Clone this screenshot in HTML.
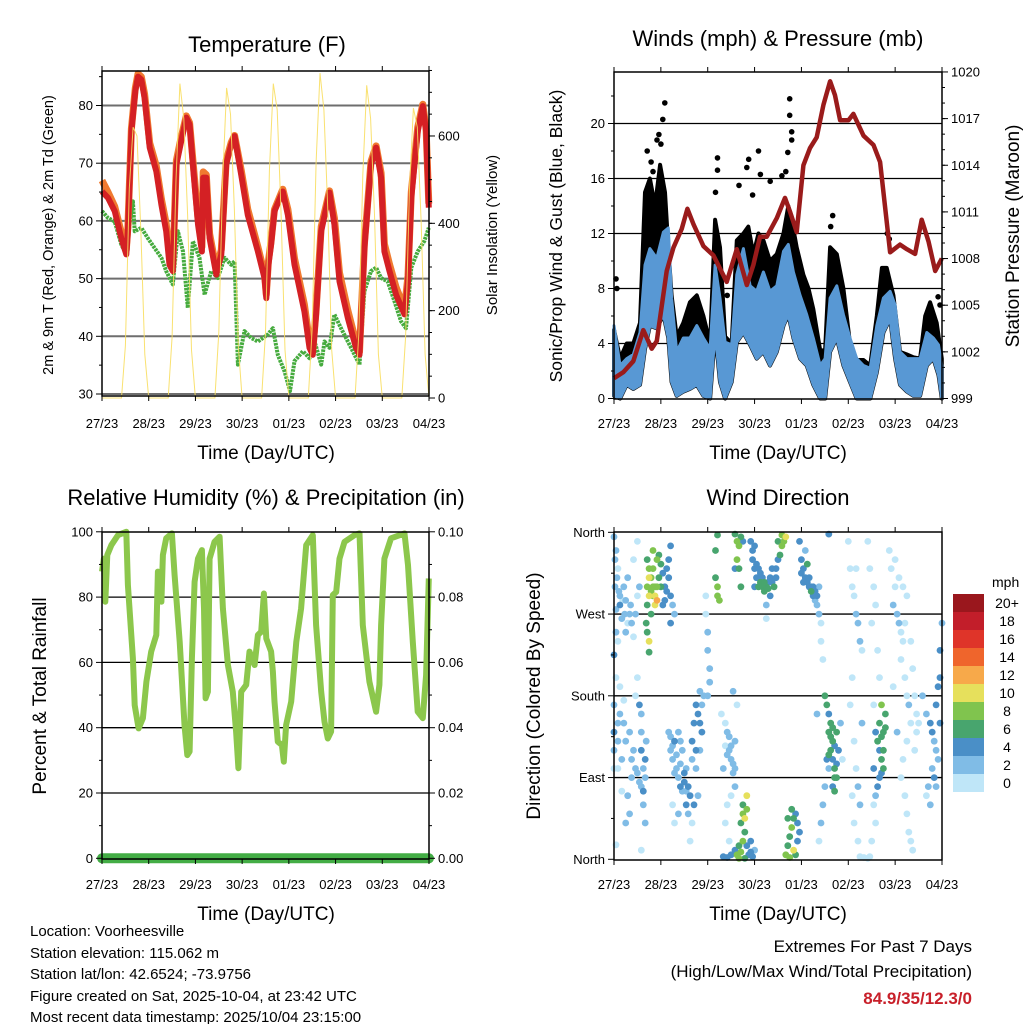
<!DOCTYPE html>
<html><head><meta charset="utf-8">
<style>
html,body{margin:0;padding:0;background:#fff;}
svg{display:block;font-family:"Liberation Sans",Arial,sans-serif;}
</style></head>
<body>
<svg id="chart" width="1024" height="1024" viewBox="0 0 1024 1024" xmlns="http://www.w3.org/2000/svg">
<rect x="0" y="0" width="1024" height="1024" fill="#fff"/>
<g id="layer"></g>
<text x="267" y="52" font-size="22" text-anchor="middle">Temperature (F)</text>
<text x="778" y="46" font-size="22" text-anchor="middle">Winds (mph) &amp; Pressure (mb)</text>
<text x="266" y="505" font-size="22" text-anchor="middle">Relative Humidity (%) &amp; Precipitation (in)</text>
<text x="778" y="505" font-size="22" text-anchor="middle">Wind Direction</text>
<text transform="translate(53,235) rotate(-90)" font-size="14.5" text-anchor="middle">2m &amp; 9m T (Red, Orange) &amp; 2m Td (Green)</text>
<text transform="translate(497,235) rotate(-90)" font-size="15" text-anchor="middle">Solar Insolation (Yellow)</text>
<text transform="translate(562,236) rotate(-90)" font-size="17.5" text-anchor="middle">Sonic/Prop Wind &amp; Gust (Blue, Black)</text>
<text transform="translate(1019,236) rotate(-90)" font-size="19" text-anchor="middle">Station Pressure (Maroon)</text>
<text transform="translate(46,696) rotate(-90)" font-size="19" text-anchor="middle">Percent &amp; Total Rainfall</text>
<text transform="translate(540,696) rotate(-90)" font-size="19" text-anchor="middle">Direction (Colored By Speed)</text>
<text x="266" y="459" font-size="19" text-anchor="middle">Time (Day/UTC)</text>
<text x="778" y="459" font-size="19" text-anchor="middle">Time (Day/UTC)</text>
<text x="266" y="920" font-size="19" text-anchor="middle">Time (Day/UTC)</text>
<text x="778" y="920" font-size="19" text-anchor="middle">Time (Day/UTC)</text>
<g font-size="15">
<text x="30" y="936">Location: Voorheesville</text>
<text x="30" y="958">Station elevation: 115.062 m</text>
<text x="30" y="979">Station lat/lon: 42.6524; -73.9756</text>
<text x="30" y="1001">Figure created on Sat, 2025-10-04, at 23:42 UTC</text>
<text x="30" y="1022">Most recent data timestamp: 2025/10/04 23:15:00</text>
</g>
<text x="972" y="952" font-size="17" text-anchor="end">Extremes For Past 7 Days</text>
<text x="972" y="977" font-size="17" text-anchor="end">(High/Low/Max Wind/Total Precipitation)</text>
<text x="972" y="1004" font-size="17" font-weight="bold" fill="#c8202a" text-anchor="end">84.9/35/12.3/0</text>
<text x="992" y="587" font-size="14">mph</text>
</svg>
<script>
// ---------------- DATA ----------------
const dayLabels = ["27/23","28/23","29/23","30/23","01/23","02/23","03/23","04/23"];
const tempHours = [0,3.1,6.5,9.9,12.5,13.3,15.1,17.1,18.5,20.2,21.9,24.5,27.9,30.5,33,34.7,36.4,38.2,40.7,43.3,45,46.7,49.3,51.3,52,53.6,55.3,58.7,61.3,63.8,66.4,68.1,71.5,74.9,80.1,83.5,84.4,85.5,86.9,88.6,92.9,95.5,98.9,104,106.6,108.3,110,112.6,116.9,119.4,122,126.3,130.5,132.3,134.8,138.2,140.8,143.4,145.1,147.7,151.1,155.4,157.2,158.9,162.2,164.8,166.5,167.9];
const tempRed = [65.1,64,61.7,57,54.2,58.2,75.5,82.5,85,84.5,81.3,72.7,68.6,62.8,58.2,52.4,51.3,69.8,73.8,77.9,76.7,69.8,59.4,54.7,67.5,67.5,57,50.7,54.2,69.8,73.2,74.7,68,61,54.7,50.1,46.6,52.4,55.9,61.7,65.1,61,52.4,44.3,38,36.8,43.8,58.2,64.9,59.4,49.5,43.2,38,36.8,55.3,69.8,72.7,67.5,54.7,51.3,47.2,43.8,49.5,64,75.5,79.9,75.5,62.3];
const tempOrange = [67,65,62.5,58,55,59,76,83,85.5,85,82,73.5,69.5,63.8,59.5,54,52.2,70.5,74.5,78.2,77,70.5,60.5,55.5,68.5,68,57.8,51.5,55,70.5,73.6,74.8,68.8,62,55.5,50.8,47.2,53,56.5,62,65.5,62,53.5,45.5,39,37.5,44.5,59,65.2,60.5,51,44.5,39,37.3,56,70.3,73,68.3,56,52.5,48.5,44.8,50.5,65,76.2,80.2,76,63];
const dewHours = [0,3.1,6.5,9.9,12.5,14.2,15.9,16.8,20.2,23.6,27,30.5,33,36.4,39,41.6,44.1,46.7,50.1,52.7,56.1,59.5,63,66.4,68.1,69.8,73.2,76.7,80.1,85.2,87.8,90.3,93.8,96.6,98.9,103.2,106.6,109.2,112.6,114.3,116.9,119.4,122.8,128,132.3,134.8,138.2,140.8,143.4,146.8,150.2,153.6,156.2,158.9,162.2,165.6,167.9];
const dewGreen = [61.7,60.5,59.9,55.9,54.2,59.4,63.4,58.2,58.8,57,55.3,53.6,51.3,49,58.2,54.7,44.9,56.5,53.6,47.2,51.3,50.1,53.6,52.4,53,35.1,40.9,39.7,39.1,40.3,41.4,36.8,33.9,30.5,35.7,37.4,36.2,39.1,35.1,39.1,38,43.8,41.4,38,35.1,47.8,51.3,51.9,50.1,49.5,46.1,42.6,41.4,51.9,54.7,56.5,58.8];
const solarStepHours = 2;
const solarValues = [
0,0,0,0,0,0,120,480,620,600,380,100,
0,0,0,0,0,0,140,500,720,640,420,110,
0,0,0,0,0,0,150,500,710,650,430,120,
0,0,0,0,0,0,150,520,720,660,420,110,
0,0,0,0,0,0,160,540,744,660,430,110,
0,0,0,0,0,0,150,510,716,640,420,100,
0,0,0,0,0,0,140,480,664,620,400,100,
0];
const windHours = [0,3.1,6.5,9.9,13.3,15.9,18.4,21.9,25.3,27.8,29.5,32.1,35.5,38.9,42.4,45.8,49.2,51.8,54.3,56.9,60.3,62.9,66.3,69.7,73.1,76.5,79.9,83.4,86.8,89.3,91.9,95.3,98.7,102.1,105.6,108.1,110.7,114.1,117.5,120.9,124.3,127.8,131.2,134.6,138,141.4,144,146.5,150,153.4,156.8,160.2,163.6,166.2,167.9];
const windLow = [0.2,0,1,0.7,1,3.6,5.3,5.1,6.1,4.4,1.2,0.2,0.5,0.7,1,0.2,0,4.8,1.2,0,1.2,4.1,4.8,3.9,2.9,3.4,2.4,3.4,5.3,6.1,4.4,2.9,2.4,1,0,0,3.4,4.4,2.4,1.2,0,0,0,1.9,4.8,5.8,2.9,1,0.5,0.2,0.2,2.4,2.9,1.7,0];
const windHigh = [5.3,2.4,2.9,3.2,4.8,9.7,10.9,10.2,12.1,12.4,7.3,3.4,4.4,4.4,5.3,4.4,3.6,9.7,7.3,4.1,3.9,9,10.9,8.2,7.8,9.2,7.8,8.2,10.7,11.2,9.2,7.5,6.1,4.4,2.4,2.9,7.3,8.2,6.1,4.4,2.9,2.4,2.2,5.3,7.3,7.8,6.8,3.4,2.9,2.9,2.9,4.8,4.4,3.9,2.4];
const gustHours = [0,3.1,6.5,9.9,13.3,15.9,18.4,21,23.6,26.1,27.8,29.5,32.1,35.5,38.9,42.4,45.8,49.2,51.8,54.3,56.9,60.3,62.9,66.3,68.8,71.4,74,76.5,79.9,83.4,86.8,89.3,91,93.6,97,99.6,102.1,105.6,108.1,110.7,114.1,117.5,120.9,124.3,127.8,131.2,134.6,137.2,139.7,143.1,146.5,150,153.4,156.8,159.4,161.9,165.3,167.9];
const gustHigh = [5,2.9,4,4,5.5,15,16,14,17,15,11,7.5,4.5,5.5,7,7.5,6,4,13,11,4.5,4,11.5,12,12.5,10.5,12,11.5,10,10.5,12,14,13,11,9,8,6.5,3.5,3.5,11,10.5,8,4,2.8,2.8,2.4,6,9.5,9.5,7.5,3.4,3.2,3,2.9,6,7,5.5,2.9];
const gustOutlierHours = [26,25,23,22,17,24,19,20,53,53,52,69,68,74,75,90,90,91,91,89,88,64,80,112,111,140,141,1,1.5,167,166,71,86,58];
const gustOutlierMph = [21.5,20.3,19.2,18.8,18,18.5,17.2,16.5,17.5,16.6,15,17.4,16.8,18,16.3,21.8,20.6,19.4,18.8,17.9,16.5,15.5,15.8,13.3,12.5,12,11.6,8.7,8,6.8,7.4,14.8,16.2,7.5];
const pressHours = [0,4.8,9.9,15,19.3,21.9,27,30.4,34.7,37.6,40.7,45.8,50.9,57.7,62.9,68,71.4,74.8,78.2,83.4,87.6,90.2,93.6,97,100.4,103.8,107.3,110.7,113.2,115.8,120.1,122.6,127.8,132.9,136.3,141.4,146.5,150,154.2,157.6,161.1,164.5,167.9];
const pressValues = [1000.3,1000.7,1001.4,1003.4,1002.2,1002.7,1007.2,1008.7,1009.9,1011.2,1010.2,1008.8,1008.2,1006.5,1008.6,1006.3,1007.6,1009.4,1009.4,1010.6,1011.9,1011,1009.7,1014,1015.1,1015.8,1017.9,1019.4,1018.5,1016.9,1016.9,1017.3,1015.9,1015.3,1014.2,1008.4,1008.9,1008.6,1008.3,1010.5,1009.1,1007.2,1008];
const rhHours = [0,1,1.7,2.7,4.8,8.2,12.5,13.3,15.9,16.8,18.8,21,22.8,25.3,27.9,28.7,30.5,31.3,33,35.9,37.3,39.9,42.4,43.8,45,46.2,47.6,49.3,51.3,52.4,53.2,54.4,55.3,57.8,60.4,62.1,64.7,67.2,68.9,70.1,71.5,74.1,75.8,78.4,80.1,81.8,83.2,84.4,86.9,87.8,88.6,90.3,92.4,93.4,94.6,97.2,99.8,102.3,104.9,108.3,110,112.6,114.3,116,117.7,118.6,120.3,122,124.6,129.7,132.3,134,137.4,140.8,142.5,143.4,145.1,148.5,155.4,157.2,159.7,162.2,164.8,166.5,167.9];
const rhValues = [87.8,91.8,78.6,92.9,95.9,99,100,83.7,61.2,46.9,39.8,42.9,54.1,63.3,68.4,87.8,78.6,92.9,98,99.5,86.7,66.3,40.8,31.6,32.7,61.2,84.7,91.8,94.4,76.5,49,51,91.8,96.9,98.5,76.5,59.2,51,38.8,27.6,51,53.1,63.3,59.2,68.4,69.4,81.1,67.3,63.3,57.1,48,35.7,34.7,29.6,40.8,48,66.3,76.5,95.9,99,71.4,51,41.8,36.7,38.8,80.6,81.6,91.8,96.9,99,99.5,71.4,54.1,44.9,53.1,71.4,91.8,98,99.5,89.8,66.3,44.9,42.9,56.1,85.7];
const precipValues = [0,0];
// Wind direction observations [hour, degrees, speed mph]
const dirObs = [
[0,355,2],[1,340,2],[2,320,0],[0.5,300,2],[3,290,2],[5,300,2],[6,285,2],[8,270,2],[9,260,2],[4,265,2],[1,250,2],[2,240,0],[6,250,2],[10,245,0],[3,280,4],[7,310,2],[10,330,0],[12,350,0],[0,225,4],[1,200,0],[3,190,0],[5,175,0],[3,160,2],[5,150,2],[8,140,2],[10,120,2],[11,100,2],[14,80,2],[15,60,2],[13,170,4],[2,130,2],[0,140,4],[4,110,2],[9,90,2],[6,40,2],[8,50,2],[0,100,0],[2,100,0],[12,200,0],[14,140,2],[15,100,2],[16,90,2],[14,120,4],[16,40,2],[1,16,0],[14,10,0],[7,70,2],[4,75,0],
[0.5,330,2],[1.5,310,2],[2.5,295,2],[4.5,285,0],[5.5,270,2],[7,260,0],[8.5,280,2],[1,275,2],[11,270,2],[12,290,0],[13,300,2],[2,150,2],[6,130,2],[9,110,2],[12,95,2],[13,85,2],[15,75,4],[16,110,4],[16.5,130,2],[14,160,2],[11,180,0],[0,170,2],[0,120,2],
[17,330,6],[18,320,8],[17,300,8],[19,310,8],[18,290,10],[20,300,8],[21,290,10],[22,285,12],[21,280,10],[19,270,6],[17,250,6],[18,240,10],[18,228,6],[20,320,8],[22,330,8],[24,325,6],[25,315,4],[24,300,6],[26,300,4],[25,280,4],[28,310,4],[29,290,4],[30,280,2],[31,270,2],[29,260,4],[28,330,4],[29,345,4],
[18,310,10],[19,295,8],[20,290,8],[21,300,8],[23,310,6],[22,300,8],[17,280,6],[16.5,260,6],[20,340,8],[23,335,6],[27,320,4],[27,295,4],[26,285,4],
[28,140,2],[29,120,2],[30,110,2],[31,130,4],[32,100,2],[33,90,2],[34,80,4],[35,75,2],[36,85,4],[37,60,4],[38,50,2],[37,100,2],[35,120,2],[33,140,2],[40,130,4],[41,150,4],[42,170,4],[44,185,2],[43,160,4],[42,100,2],[43,70,2],[41,60,4],[40,40,0],[39,20,0],[30,60,0],[31,40,0],[33,50,2],[45,170,2],[46,180,2],[45,140,4],[44,120,2],
[30,125,2],[32,115,2],[34,105,2],[36,95,4],[38,80,4],[39,70,4],[37,75,2],[34,130,2],[29,135,2],[31,95,2],[40,110,2],[42,120,4],[44,150,4],
[47,270,0],[48,250,2],[48,230,2],[49,210,2],[47,290,0],[49,195,2],[48,180,2],
[52,310,6],[53,300,8],[53,290,8],[54,285,8],[52,340,6],[53,357,6],
[55,160,0],[57,150,0],[58,140,2],[59,120,2],[60,110,2],[61,95,2],[62,80,2],[60,70,0],[58,60,0],[62,130,2],[63,170,0],[56,100,2],[57,40,0],[59,20,0],[60,5,4],[58,2,4],[56,3,4],[61,185,2],
[59,135,2],[60,125,2],[61,105,2],[62,100,2],[58,115,2],[57,125,0],
[62,358,6],[63,350,8],[64,345,8],[63,330,8],[64,320,6],[62,320,4],[65,355,6],[66,350,4],[65,300,6],
[62,10,4],[63,5,8],[64,15,6],[65,8,8],[66,20,8],[67,30,6],[67,45,10],[66,50,8],[65,40,6],[68,55,8],[66,60,6],[68,15,4],[69,5,4],[70,8,4],[64,1,8],[67,1,6],[70,20,4],[71,3,4],[72,10,2],[68,70,10],
[70,350,4],[71,330,4],[72,320,4],[73,310,4],[72,300,4],[74,300,6],[75,305,6],[76,300,6],[77,295,6],[78,300,6],[79,305,4],[80,310,4],[81,320,4],[82,300,6],[83,320,4],[84,330,4],[85,335,6],[86,345,8],[87,350,8],[88,355,10],[86,357,8],[84,350,6],[76,310,4],[74,320,4],[71,340,4],[80,290,4],[78,280,2],[78,265,0],
[73,325,4],[75,315,4],[77,305,6],[79,298,6],[81,305,4],[83,310,4],[72,345,4],
[95,350,4],[96,330,4],[97,320,4],[98,310,4],[99,305,4],[100,300,4],[101,300,4],[102,290,4],[103,285,2],[104,280,2],[105,270,2],[106,260,0],[106,240,0],[107,220,0],[99,325,6],[101,295,6],[98,340,2],[105,300,2],
[96,315,4],[97,305,4],[100,310,4],[102,300,4],[103,295,4],[104,290,4],
[88,5,8],[89,15,6],[90,25,6],[91,35,8],[92,45,6],[93,50,4],[94,40,4],[95,30,4],[92,10,10],[90,2,8],[93,5,6],[94,20,4],[91,55,6],[89,45,6],
[108,180,6],[109,170,6],[110,160,4],[111,150,6],[110,140,6],[112,130,6],[111,120,6],[112,110,4],[113,100,6],[114,90,6],[112,80,4],[113,75,6],[115,120,4],[114,140,6],[109,110,4],[110,100,2],[108,80,2],[107,60,2],[106,40,2],[105,20,0],[104,160,2],[116,150,2],[117,110,0],[110,358,4],
[111,135,6],[112,145,6],[113,125,4],[110,115,6],[113,90,6],[114,105,4],
[120,350,0],[121,320,0],[122,300,0],[123,290,0],[124,270,2],[125,260,2],[126,240,2],[127,230,0],[124,320,0],[122,200,0],[121,170,0],[123,130,0],[124,100,0],[122,70,0],[123,40,0],[125,20,0],[126,3,0],[128,2,0],[130,1,0],[131,3,0],[127,150,2],[125,80,2],[126,60,2],
[130,350,0],[131,320,0],[133,300,0],[134,280,0],[132,260,0],[135,230,0],[136,200,0],[133,170,0],[134,140,4],[135,130,6],[136,120,4],[137,110,6],[138,100,6],[138,140,6],[139,160,6],[137,170,8],[136,90,4],[135,80,4],[134,70,2],[133,100,4],[133,60,0],[134,40,0],[132,20,0],
[136,150,6],[137,135,6],[138,120,6],[137,95,4],[139,145,6],
[141,340,0],[142,320,0],[144,300,0],[143,280,2],[145,270,2],[146,260,2],[147,250,0],[148,240,0],[147,220,0],[149,200,0],[150,180,0],[151,170,2],[152,150,0],[150,130,0],[148,110,0],[147,90,0],[149,70,0],[150,50,0],[151,30,0],[152,20,0],[153,10,0],[145,140,2],[143,190,0],[155,160,0],[154,120,0],
[144,330,0],[146,310,0],[148,300,0],[150,290,0],[149,260,0],[152,240,0],[153,210,0],[154,180,0],[156,150,0],[155,140,0],
[158,180,2],[160,160,2],[162,150,4],[163,140,4],[164,130,2],[165,120,2],[166,110,2],[167,200,4],[167,230,4],[168,260,2],[163,100,2],[161,80,2],[160,70,0],[162,60,2],[164,90,4],[165,170,4],[166,190,4],[167,150,4],[165,80,2]
];
const speedBins = [0,2,4,6,8,10,12,14,16,18,20];
const speedLabels = ["0","2","4","6","8","10","12","14","16","18","20+"];
const speedColors = ["#bfe6f8","#80bce6","#4a8fc7","#48a56e","#80c44e","#e6e05c","#f7a94a","#ef652c","#df3429","#c21e2a","#9a171d"];
const tempTicks = [30,40,50,60,70,80];
const solarTicks = [0,200,400,600];
const windTicks = [0,4,8,12,16,20];
const pressTicks = [999,1002,1005,1008,1011,1014,1017,1020];
const rhTicks = [0,20,40,60,80,100];
const rainTicks = ["0.00","0.02","0.04","0.06","0.08","0.10"];
const dirTicks = [0,90,180,270,360];
const dirTickLabels = ["North","East","South","West","North"];

// ---------------- SCALES ----------------
const NS="http://www.w3.org/2000/svg";
const layer=document.getElementById('layer');
const P1={x0:102,x1:429,y0:71,y1:396}, P2={x0:614,x1:942,y0:72,y1:399}, P3={x0:102,x1:429,y0:532,y1:859}, P4={x0:614,x1:942,y0:532,y1:860};
const xL=h=>P1.x0+h/168*(P1.x1-P1.x0);
const xR=h=>P2.x0+h/168*(P2.x1-P2.x0);
const yTemp=t=>394-(t-30)*5.77;
const ySolar=s=>398-s*0.4367;
const yWind=w=>398.5-w*13.75;
const yPress=p=>398.5-(p-999)*15.55;
const yRH=r=>858.3-r*3.265;
const yDir=d=>859.3-d*0.9083;

function mk(tag,attrs,parent){const e=document.createElementNS(NS,tag);for(const k in attrs)e.setAttribute(k,attrs[k]);(parent||layer).appendChild(e);return e;}
function path(xs,ys,fx,fy){return xs.map((h,i)=>(i?'L':'M')+fx(h).toFixed(1)+','+fy(ys[i]).toFixed(1)).join(' ');}

function gridH(P,ys,color,w){ys.forEach(y=>{const l=mk('line',{x1:P.x0,x2:P.x1,y1:y,y2:y,stroke:color,'stroke-width':w});

});}
function frame(P){const r=mk('rect',{x:P.x0,y:P.y0,width:P.x1-P.x0,height:P.y1-P.y0,fill:'none',stroke:'#000','stroke-width':1.5});

}
function xTicks(P,fx,labY){
  for(let d=0;d<=7;d++){const x=fx(d*24);
    mk('line',{x1:x,x2:x,y1:P.y1,y2:P.y1+5,stroke:'#000','stroke-width':1});
    mk('line',{x1:x,x2:x,y1:P.y0,y2:P.y0-5,stroke:'#000','stroke-width':1});
    const t=mk('text',{x:x,y:labY,'font-size':13,'text-anchor':'middle'});t.textContent=dayLabels[d];
    
    }
}
function yTicks(x,side,vals,fy,labels,minor,fs){
  const dir=side==='left'?-1:1;
  minor.forEach(v=>mk('line',{x1:x,x2:x+dir*3,y1:fy(v),y2:fy(v),stroke:'#000','stroke-width':1}));
  vals.forEach((v,i)=>{const y=fy(v);
    mk('line',{x1:x,x2:x+dir*6,y1:y,y2:y,stroke:'#000','stroke-width':1});
    const t=mk('text',{x:x+dir*9,y:y+4.5,'font-size':fs||13,'text-anchor':side==='left'?'end':'start'});t.textContent=labels[i];
    
    });
}
function range(a,b,s){const r=[];for(let v=a;v<=b+1e-9;v+=s)r.push(v);return r;}

// ---------------- PANEL 1: Temperature ----------------
gridH(P1,tempTicks.map(yTemp),'#6e6e6e',2);
let e;
e=mk('path',{d:path(dewHours,dewGreen,xL,yTemp),fill:'none',stroke:'#46ab3e','stroke-width':4,'stroke-dasharray':'2.6 0.9','stroke-linejoin':'round'});


e=mk('path',{d:path(tempHours,tempOrange,xL,yTemp),fill:'none',stroke:'#f07a30','stroke-width':7,'stroke-linejoin':'round'});


e=mk('path',{d:path(tempHours,tempRed,xL,yTemp),fill:'none',stroke:'#d42024','stroke-width':6,'stroke-linejoin':'round'});


const solarHours=solarValues.map((v,i)=>i*solarStepHours);
e=mk('path',{d:path(solarHours,solarValues,xL,ySolar),fill:'none',stroke:'#f8de60','stroke-width':1,'stroke-opacity':0.9});


frame(P1);
xTicks(P1,xL,428);
yTicks(P1.x0,'left',tempTicks,yTemp,tempTicks.map(String),range(35,85,10));
yTicks(P1.x1,'right',solarTicks,ySolar,solarTicks.map(String),range(50,750,50));

// ---------------- PANEL 2: Winds ----------------
gridH(P2,windTicks.slice(1).map(yWind),'#000',1.3);
const gustPoly=gustHours.map((h,i)=>xR(h).toFixed(1)+','+yWind(gustHigh[i]).toFixed(1)).concat(windHours.slice().reverse().map((h,i)=>{const j=windHours.length-1-i;return xR(h).toFixed(1)+','+yWind(windLow[j]).toFixed(1);})).join(' ');
e=mk('polygon',{points:gustPoly,fill:'#000',stroke:'#000','stroke-width':4,'stroke-linejoin':'round'});


gustOutlierHours.forEach((h,i)=>{
  const c=mk('circle',{cx:xR(h).toFixed(1),cy:yWind(gustOutlierMph[i]).toFixed(1),r:2.8,fill:'#000'});
  
  
});
const windPoly=windHours.map((h,i)=>xR(h).toFixed(1)+','+yWind(windHigh[i]).toFixed(1)).concat(windHours.slice().reverse().map((h,i)=>{const j=windHours.length-1-i;return xR(h).toFixed(1)+','+yWind(windLow[j]).toFixed(1);})).join(' ');
e=mk('polygon',{points:windPoly,fill:'#5898d4',stroke:'#5898d4','stroke-width':3,'stroke-linejoin':'round'});


e=mk('path',{d:path(pressHours,pressValues,xR,yPress),fill:'none',stroke:'#9a1b1b','stroke-width':4.5,'stroke-linejoin':'round'});


frame(P2);
xTicks(P2,xR,428);
yTicks(P2.x0,'left',windTicks,yWind,windTicks.map(String),range(2,22,4));
yTicks(P2.x1,'right',pressTicks,yPress,pressTicks.map(String),range(1000,1019,1));

// ---------------- PANEL 3: RH ----------------
gridH(P3,rhTicks.slice(1,5).map(yRH),'#000',1.3);
e=mk('path',{d:path(rhHours,rhValues,xL,yRH),fill:'none',stroke:'#8cc74c','stroke-width':6,'stroke-linejoin':'round'});


e=mk('path',{d:path([0,168],precipValues,xL,v=>yRH(v*1000)),fill:'none',stroke:'#43ad45','stroke-width':10,'stroke-linecap':'round'});


frame(P3);
xTicks(P3,xL,889);
yTicks(P3.x0,'left',rhTicks,yRH,rhTicks.map(String),range(10,90,20));
yTicks(P3.x1,'right',rhTicks,yRH,rainTicks,range(10,90,20));

// ---------------- PANEL 4: Wind direction ----------------
gridH(P4,dirTicks.slice(1,4).map(yDir),'#000',1.3);
function binIdx(s){let k=0;for(let i=0;i<speedBins.length;i++)if(s>=speedBins[i])k=i;return k;}
dirObs.slice().sort((a,b)=>a[2]-b[2]).forEach(o=>{
  const c=mk('circle',{cx:xR(o[0]).toFixed(1),cy:yDir(o[1]).toFixed(1),r:3.4,fill:speedColors[binIdx(o[2])]});
  
  
});
frame(P4);
xTicks(P4,xR,889);
yTicks(P4.x0,'left',dirTicks,yDir,dirTickLabels,[45,135,225,315]);

speedColors.forEach((c,i)=>{
  const k=speedColors.length-1-i;
  const y=594+k*18;
  const r=mk('rect',{x:953,y:y,width:31,height:18,fill:c});
  
  
  const t=mk('text',{x:1007,y:y+14,'font-size':14,'text-anchor':'middle'});t.textContent=speedLabels[i];
  
  
});
</script>
</body></html>
